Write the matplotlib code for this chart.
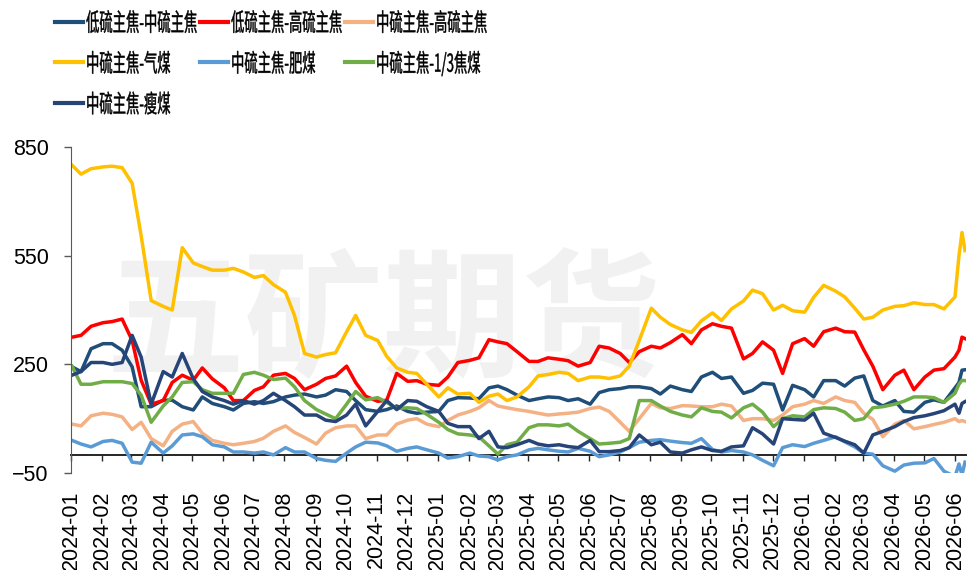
import pandas as pd
import matplotlib
matplotlib.use('Agg')
import matplotlib.pyplot as plt
import matplotlib.dates as mdates
from matplotlib import patheffects
from matplotlib.lines import Line2D
from matplotlib.transforms import Affine2D

plt.rcParams['font.family'] = ['Liberation Sans', 'Noto Sans CJK SC']

# sample dates: 1st, 11th, 21st of each month, plus the last days of the chart
months = pd.date_range('2024-01-01', '2026-05-01', freq='MS')
dates = [m + pd.Timedelta(days=d) for m in months for d in (1, 10, 20)]
dates += [pd.Timestamp(s) for s in ('2026-06-01', '2026-06-05', '2026-06-08', '2026-06-11')]

labels = ['低硫主焦-中硫主焦', '低硫主焦-高硫主焦', '中硫主焦-高硫主焦',
          '中硫主焦-气煤', '中硫主焦-肥煤', '中硫主焦-1/3焦煤', '中硫主焦-瘦煤']
colors = ['#1F4E79', '#FF0000', '#F4B183', '#FFC000', '#5B9BD5', '#70AD47', '#264478']

low_mid = [243, 230, 293, 307, 307, 289, 243, 133, 133, 151, 151, 133,
           124, 160, 142, 133, 124, 142, 147, 142, 147, 160, 165, 168,
           160, 165, 180, 175, 150, 125, 120, 125, 135, 120, 115, 118,
           120, 150, 158, 157, 155, 185, 190, 180, 165, 150, 155, 160,
           158, 150, 155, 140, 172, 180, 183, 188, 188, 183, 168, 190,
           180, 175, 215, 228, 211, 215, 170, 178, 198, 195, 124, 192,
           180, 160, 205, 205, 190, 212, 218, 150, 135, 150, 120, 118,
           145, 152, 145, 185, 200, 234, 235]
low_high = [325, 330, 355, 365, 368, 375, 316, 206, 140, 150, 200, 220,
            206, 240, 210, 185, 150, 150, 178, 188, 220, 225, 211, 180,
            195, 211, 218, 245, 200, 162, 148, 151, 225, 203, 205, 195,
            192, 215, 255, 261, 268, 318, 312, 307, 285, 258, 258, 268,
            264, 260, 245, 255, 300, 295, 280, 255, 285, 300, 295, 310,
            332, 307, 345, 362, 355, 350, 265, 280, 312, 289, 225, 307,
            321, 300, 340, 350, 340, 339, 290, 245, 180, 220, 234, 180,
            215, 234, 238, 270, 289, 325, 321]
mid_high = [85, 80, 108, 115, 112, 105, 70, 90, 45, 25, 65, 85,
            92, 60, 40, 32, 28, 32, 37, 46, 65, 80, 62, 48,
            30, 60, 75, 80, 80, 45, 55, 55, 85, 96, 100, 85,
            78, 95, 110, 120, 130, 150, 135, 130, 125, 120, 115, 110,
            113, 115, 118, 128, 132, 120, 90, 65, 100, 142, 130, 128,
            136, 135, 133, 133, 140, 135, 95, 100, 100, 95, 110, 133,
            140, 150, 142, 160, 150, 145, 115, 98, 50, 85, 95, 72,
            78, 84, 90, 100, 92, 95, 92]
gas_coal = [800, 775, 790, 795, 797, 793, 750, 605, 426, 410, 400, 572,
            530, 520, 510, 510, 515, 505, 490, 495, 470, 449, 385, 280,
            270, 277, 282, 340, 385, 330, 316, 272, 240, 228, 225, 195,
            160, 185, 168, 170, 145, 162, 168, 150, 160, 188, 218, 222,
            228, 225, 205, 215, 215, 211, 218, 245, 316, 405, 380, 360,
            345, 338, 370, 392, 371, 403, 425, 455, 445, 400, 413, 398,
            394, 435, 468, 452, 436, 405, 375, 380, 400, 410, 412, 420,
            415, 415, 403, 436, 550, 614, 564]
fat_coal = [40, 30, 22, 37, 40, 32, -20, -23, 35, 5, 25, 55,
            58, 50, 28, 22, 8, 8, 5, 8, 0, 20, 8, 8,
            -10, -15, -18, 5, 22, 35, 33, 25, 10, 18, 22, 14,
            5, -9, -5, 5, -3, -5, -14, -5, 0, 14, 18, 14,
            10, 8, 18, 10, -5, 0, 8, 20, 35, 40, 42, 38,
            34, 32, 45, 15, 8, 12, 8, 0, -15, -30, 20, 28,
            23, 32, 40, 50, 36, 22, 5, 2, -30, -45, -28, -23,
            -22, -10, -45, -60, -25, -55, -20]
third_coking = [245, 195, 195, 202, 202, 202, 197, 165, 90, 135, 160, 200,
                202, 180, 170, 170, 170, 222, 228, 220, 208, 212, 188, 150,
                125, 113, 100, 140, 175, 152, 158, 145, 128, 130, 128, 112,
                90, 70, 58, 55, 50, 25, 2, 28, 35, 75, 83, 83,
                80, 85, 65, 45, 30, 32, 35, 45, 150, 150, 135, 120,
                110, 105, 130, 120, 118, 102, 130, 140, 118, 78, 100, 108,
                105, 125, 130, 128, 118, 95, 100, 130, 133, 140, 148, 160,
                160, 158, 145, 170, 195, 206, 205]
lean_coal = [220, 230, 255, 255, 250, 255, 330, 270, 140, 230, 215, 280,
             210, 175, 160, 150, 140, 150, 140, 150, 170, 150, 133, 110,
             110, 96, 92, 110, 140, 80, 120, 150, 125, 150, 148, 133,
             120, 87, 78, 78, 45, 65, 22, 20, 28, 40, 30, 25,
             28, 23, 20, 40, 9, 9, 12, 20, 55, 28, 35, 8,
             5, 14, 22, 12, 10, 22, 25, 75, 58, 30, 100, 98,
             96, 115, 60, 48, 38, 28, 5, 55, 65, 78, 92, 103,
             108, 114, 122, 140, 115, 142, 147]

series = [low_mid, low_high, mid_high, gas_coal, fat_coal, third_coking, lean_coal]


class Stretch(patheffects.AbstractPathEffect):
    # draw text taller than wide and a bit heavier, like the narrow legend font
    def __init__(self, sy, stroke=0.3):
        super().__init__()
        self.sy = sy
        self.stroke = stroke

    def draw_path(self, renderer, gc, tpath, affine, rgbFace=None):
        aff = Affine2D().scale(1.0, self.sy) + affine
        gc0 = renderer.new_gc()
        gc0.copy_properties(gc)
        gc0.set_linewidth(self.stroke)
        gc0.set_foreground(rgbFace)
        renderer.draw_path(gc0, tpath, aff, rgbFace)
        gc0.restore()


W, H = 968, 570
fig = plt.figure(figsize=(W / 100, H / 100), dpi=100)
ax = fig.add_axes([71 / W, 1 - 473 / H, 895 / W, 326 / H])

ax.text(0.349, 0.454, '五矿期货', transform=ax.transAxes, fontsize=100,
        color='#f1f1f1', fontweight='bold', family='Noto Sans CJK SC',
        ha='center', va='center', zorder=0)

for values, color in zip(series, colors):
    ax.plot(dates, values, color=color, lw=2.5, zorder=2)

ax.set_ylim(-50, 850)
ax.set_yticks([-50, 250, 550, 850])
ax.set_xlim(pd.Timestamp('2024-01-01'), pd.Timestamp('2026-06-12'))
ax.xaxis.set_major_locator(mdates.MonthLocator())
ax.xaxis.set_major_formatter(mdates.DateFormatter('%Y-%m'))

for side in ('top', 'right'):
    ax.spines[side].set_visible(False)
ax.spines['bottom'].set_position(('data', 0))
ax.spines['bottom'].set_color('#262626')
ax.spines['bottom'].set_linewidth(1.4)
ax.spines['bottom'].set_zorder(1)
ax.spines['left'].set_color('#595959')
ax.tick_params(axis='x', direction='out', length=4.5, width=1, pad=21,
               labelsize=15.5, labelrotation=90, color='#262626')
ax.tick_params(axis='y', direction='out', length=5, width=1, pad=11,
               labelsize=15.5, color='#595959')

# legend, three per row
for i, (label, color) in enumerate(zip(labels, colors)):
    row, col = divmod(i, 3)
    yc = 21.5 + 40.7 * row
    x0 = 55 + 145 * col
    fig.add_artist(Line2D([x0 / W, (x0 + 28) / W], [1 - yc / H] * 2,
                          transform=fig.transFigure, color=color, lw=3))
    fig.text((x0 + 31) / W, 1 - (yc + 9.5) / H, label, fontsize=9.6,
             family='Noto Sans CJK SC', ha='left', va='baseline',
             path_effects=[Stretch(1.85)])

fig.savefig('out.png', dpi=100)
